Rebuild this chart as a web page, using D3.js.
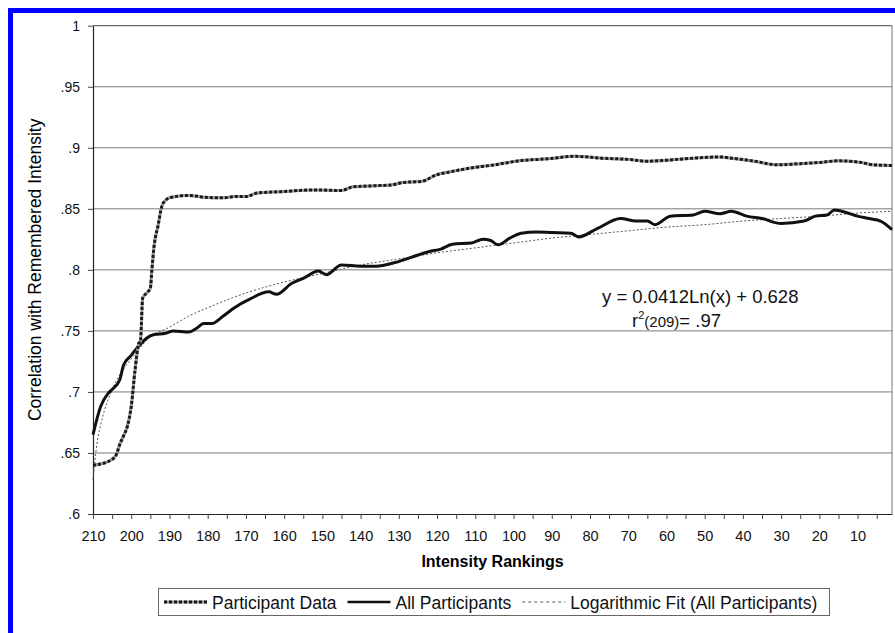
<!DOCTYPE html>
<html lang="en">
<head>
    <meta charset="UTF-8">
    <title>Correlation with Remembered Intensity</title>
    <script src="https://cdn.jsdelivr.net/npm/d3@7/dist/d3.min.js"></script>
    <style>
        body { margin: 0; background: #fff; }
        svg { display: block; }
    </style>
</head>
<body>
<script>
    // ---- data ----
    let yTicks = [1, .95, .9, .85, .8, .75, .7, .65, .6]
    let xTickLabels = [210, 200, 190, 180, 170, 160, 150, 140, 130, 120, 110, 100, 90, 80, 70, 60, 50, 40, 30, 20, 10]

    // Participant Data (dashed)
    let partRank = [210, 208, 206, 204, 203, 202, 201, 200, 199, 198, 197.6, 197, 196, 195, 194.6, 194, 193, 192, 191, 190,
        185, 181, 176, 173, 170, 167, 161, 152, 145, 142, 135, 132, 129, 124, 120, 117, 112, 105, 98, 91, 84, 77, 70, 65,
        59, 53, 46, 43, 37, 31, 25, 20, 15, 9, 6, 1]
    let partVal = [.640, .641, .643, .648, .657, .664, .672, .688, .718, .740, .741, .777, .781, .785, .800, .820, .836, .852, .857, .859,
        .861, .8595, .859, .860, .860, .863, .864, .8655, .865, .868, .869, .8695, .8715, .8725, .878, .880, .883, .886, .8895, .891, .893, .8915, .8905, .889,
        .890, .8915, .8925, .8915, .889, .886, .887, .888, .8893, .888, .886, .8855]

    // All Participants (solid)
    let allRank = [210, 208, 206, 205, 203, 202, 200, 199, 197, 196, 194, 191, 189, 185, 183, 181, 179, 176, 173, 169,
        164, 162, 158, 155, 151, 149, 145, 140, 136, 131, 127, 122, 119, 116, 111, 108, 106, 104, 101, 98, 94, 90, 85, 83,
        78, 72, 68, 65, 63, 59, 53, 50, 46, 43, 39, 35, 30, 24, 21, 18, 16, 13, 10, 7, 4, 1]
    let allVal = [.665, .688, .699, .702, .710, .722, .730, .734, .741, .744, .747, .748, .750, .749, .752, .756, .756, .762, .769, .776,
        .782, .780, .789, .793, .799, .796, .804, .803, .803, .806, .810, .815, .817, .821, .822, .825, .824, .8205, .826, .830, .831, .8305, .830, .827,
        .834, .842, .840, .840, .837, .844, .845, .848, .846, .848, .844, .842, .838, .840, .844, .845, .849, .847, .844, .842, .840, .833]

    // Logarithmic Fit (All Participants)
    let fitRank = [210, 209, 208, 207, 206, 205, 203, 200, 195, 190, 185, 180, 170, 160, 150, 140, 130, 120, 110, 100,
        90, 80, 70, 60, 50, 40, 30, 20, 10, 1]
    let fitVal = [.628, .657, .673, .685, .694, .702, .714, .727, .745, .753, .762, .769, .781, .790, .797, .804, .809, .814, .818, .822,
        .826, .829, .832, .835, .837, .840, .842, .844, .8465, .848]

    let legendNames = ["Participant Data", "All Participants", "Logarithmic Fit (All Participants)"]
    let eqText = "y = 0.0412Ln(x) + 0.628"

    // ---- layout ----
    let W = 895, H = 633
    let mLeft = 93, mRight = 892, mTop = 25.7, mBottom = 514

    let svg = d3.select('body').append('svg')
        .attr('width', W).attr('height', H)
        .style('font-family', '"Liberation Sans", Arial, sans-serif')

    svg.append('rect').attr('width', W).attr('height', H).attr('fill', '#fff')

    // blue frame (top and left only)
    svg.append('rect').attr('x', 8).attr('y', 8).attr('width', W - 8).attr('height', 5).attr('fill', '#0000ff')
    svg.append('rect').attr('x', 8).attr('y', 8).attr('width', 5).attr('height', H - 8).attr('fill', '#0000ff')

    let xScale = d3.scaleLinear().domain([210, 1]).range([mLeft, mRight])
    let yScale = d3.scaleLinear().domain([.6, 1]).range([mBottom, mTop])

    // gridlines
    svg.append('g').selectAll('line').data(yTicks.filter(d => d > .6)).enter()
        .append('line')
        .attr('x1', mLeft).attr('x2', mRight)
        .attr('y1', d => yScale(d)).attr('y2', d => yScale(d))
        .attr('stroke', d => d === 1 ? '#444' : '#7a7a7a')
        .attr('stroke-width', 1)

    // right frame
    svg.append('line').attr('x1', mRight).attr('x2', mRight).attr('y1', mTop).attr('y2', mBottom)
        .attr('stroke', '#777').attr('stroke-width', 1)

    // axes
    let yAxis = svg.append('g')
        .attr('transform', 'translate(' + mLeft + ',0)')
        .call(d3.axisLeft(yScale).tickValues(yTicks).tickSize(5).tickSizeOuter(0).tickPadding(8)
            .tickFormat(d => d === 1 ? '1' : String(d).replace(/^0/, '')))
    yAxis.select('.domain').attr('stroke', '#222').attr('stroke-width', 1.2)
    yAxis.selectAll('.tick line').attr('stroke', '#444')
    yAxis.selectAll('text').style('font-size', '14px').attr('fill', '#111')
        .style('font-family', '"Liberation Sans", Arial, sans-serif')

    let xAxis = svg.append('g')
        .attr('transform', 'translate(0,' + mBottom + ')')
        .call(d3.axisBottom(xScale).tickValues(d3.range(210, 4, -5)).tickSize(5).tickSizeOuter(0).tickPadding(12)
            .tickFormat(d => xTickLabels.includes(d) ? d : ''))
    xAxis.select('.domain').attr('stroke', '#222').attr('stroke-width', 1.2)
    xAxis.selectAll('.tick line').attr('stroke', '#444')
    xAxis.selectAll('text').style('font-size', '14.5px').attr('fill', '#111')
        .style('font-family', '"Liberation Sans", Arial, sans-serif')

    // axis titles
    svg.append('text')
        .attr('x', (mLeft + mRight) / 2).attr('y', 567)
        .attr('text-anchor', 'middle')
        .style('font-size', '16px').style('font-weight', 'bold')
        .text('Intensity Rankings')

    svg.append('text')
        .attr('transform', 'translate(41,' + ((mTop + mBottom) / 2) + ') rotate(-90)')
        .attr('text-anchor', 'middle')
        .style('font-size', '17.5px')
        .text('Correlation with Remembered Intensity')

    // lines
    let line = d3.line()
        .x(d => xScale(d[0]))
        .y(d => yScale(d[1]))
        .curve(d3.curveMonotoneX)

    let fitData = fitRank.map((r, i) => [r, fitVal[i]])
    let allData = allRank.map((r, i) => [r, allVal[i]])
    let partData = partRank.map((r, i) => [r, partVal[i]])

    svg.append('path').datum(fitData)
        .attr('d', line)
        .attr('fill', 'none')
        .attr('stroke', '#555')
        .attr('stroke-width', 1)
        .attr('stroke-dasharray', '2,2')

    svg.append('path').datum(allData)
        .attr('d', line)
        .attr('fill', 'none')
        .attr('stroke', '#111')
        .attr('stroke-width', 3)
        .attr('stroke-linejoin', 'round')

    svg.append('path').datum(partData)
        .attr('d', line)
        .attr('fill', 'none')
        .attr('stroke', '#9a9a9a')
        .attr('stroke-width', 3)
    svg.append('path').datum(partData)
        .attr('d', line)
        .attr('fill', 'none')
        .attr('stroke', '#1a1a1a')
        .attr('stroke-width', 3)
        .attr('stroke-dasharray', '3,2')

    // equation text
    svg.append('text')
        .attr('x', 602).attr('y', 303)
        .style('font-size', '18.5px')
        .attr('fill', '#111')
        .text(eqText)

    let r2 = svg.append('text')
        .attr('x', 632).attr('y', 327)
        .attr('fill', '#111')
        .style('font-size', '18.5px')
    r2.append('tspan').text('r')
    r2.append('tspan').attr('dy', -8).style('font-size', '11px').text('2')
    r2.append('tspan').attr('dy', 8).style('font-size', '15px').text('(209)')
    r2.append('tspan').text('=  .97')

    // legend
    let lg = svg.append('g')
    lg.append('rect')
        .attr('x', 158.5).attr('y', 588.5).attr('width', 671).attr('height', 27)
        .attr('fill', '#fff').attr('stroke', '#666').attr('stroke-width', 1)

    let lx = 164, ly = 602
    legendNames.forEach(function (name, i) {
        if (i === 0) {
            lg.append('line').attr('x1', lx).attr('x2', lx + 43).attr('y1', ly).attr('y2', ly)
                .attr('stroke', '#9a9a9a').attr('stroke-width', 3)
            lg.append('line').attr('x1', lx).attr('x2', lx + 43).attr('y1', ly).attr('y2', ly)
                .attr('stroke', '#1a1a1a').attr('stroke-width', 3).attr('stroke-dasharray', '3,2')
        } else if (i === 1) {
            lg.append('line').attr('x1', lx).attr('x2', lx + 43).attr('y1', ly).attr('y2', ly)
                .attr('stroke', '#111').attr('stroke-width', 2.5)
        } else {
            lg.append('line').attr('x1', lx).attr('x2', lx + 43).attr('y1', ly).attr('y2', ly)
                .attr('stroke', '#555').attr('stroke-width', 1).attr('stroke-dasharray', '3,3')
        }
        let t = lg.append('text')
            .attr('x', lx + 48).attr('y', 609)
            .style('font-size', '17.5px')
            .attr('fill', '#111')
            .text(name)
        lx = lx + 48 + t.node().getComputedTextLength() + 11
    })
</script>
</body>
</html>
